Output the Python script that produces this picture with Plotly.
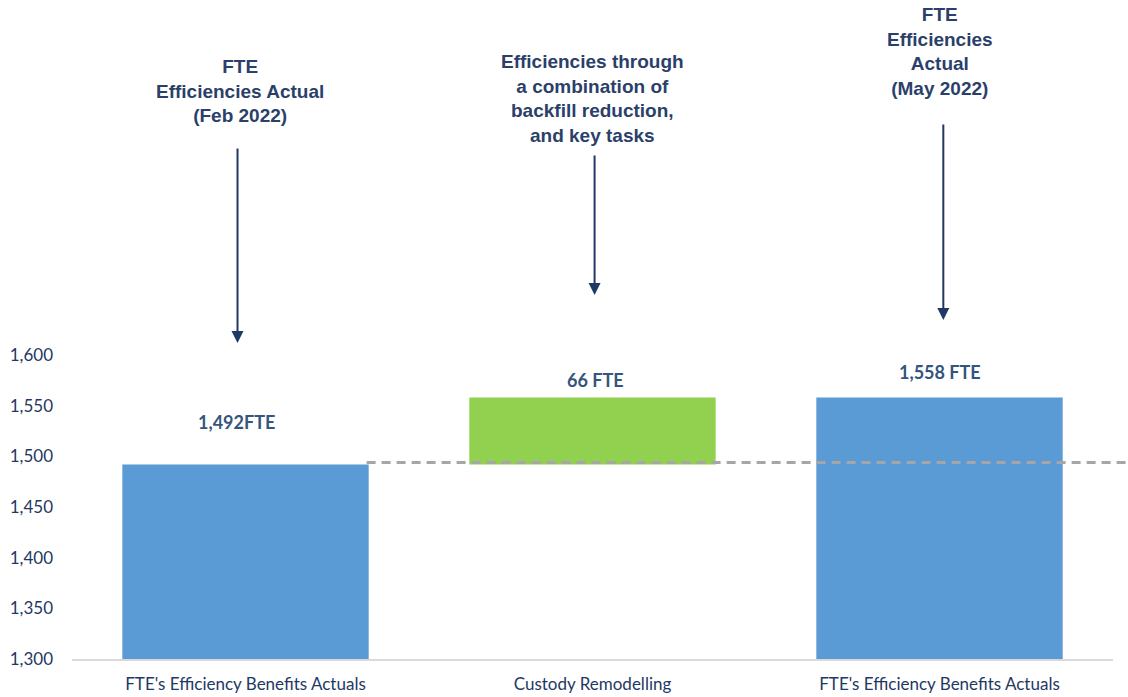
import plotly.graph_objects as go

# ---- data ----
categories = ["FTE's Efficiency Benefits Actuals", "Custody Remodelling", "FTE's Efficiency Benefits Actuals"]
bar_values = [1492, 66, 1558]
bar_bases = [0, 1492, 0]
bar_colors = ["#5b9bd5", "#92d050", "#5b9bd5"]
value_labels = ["1,492FTE", "66 FTE", "1,558 FTE"]
baseline_value = 1494
ytick_vals = [1300, 1350, 1400, 1450, 1500, 1550, 1600]
notes = [
    "FTE<br>Efficiencies Actual<br>(Feb 2022)",
    "Efficiencies through<br>a combination of<br>backfill reduction,<br>and key tasks",
    "FTE<br>Efficiencies<br>Actual<br>(May 2022)",
]

x_pos = list(range(len(categories)))
navy = "#1f3864"
label_col = "#34557d"

fig = go.Figure()
fig.add_trace(go.Bar(
    x=x_pos, y=bar_values, base=bar_bases,
    marker=dict(color=bar_colors, line=dict(width=0)),
    width=0.71, showlegend=False, hoverinfo="skip",
))

tops = [b + v for b, v in zip(bar_bases, bar_values)]
label_shift = [42, 18, 26]
label_xs = [-0.025, 1.01, 2.0]
for i, (lx, t, lab) in enumerate(zip(label_xs, tops, value_labels)):
    fig.add_annotation(x=lx, y=t, text="<b>" + lab + "</b>", showarrow=False, yanchor="middle",
                       yshift=label_shift[i],
                       font=dict(family="Lato, sans-serif", size=18, color=label_col))

# dashed reference line
fig.add_shape(type="line", xref="paper", yref="y", x0=0.283, x1=1.013,
              y0=baseline_value, y1=baseline_value, layer="above",
              line=dict(color="#a6a6a6", width=3, dash="9px,6px"))

# top notes
note_x = [-0.015, 1.0, 2.0]
note_y = [1 - 91 / 659, 1 - 98 / 659, 1 - 51 / 659]
for nx, ny, txt in zip(note_x, note_y, notes):
    fig.add_annotation(x=nx, xref="x", y=ny, yref="paper", text="<b>" + txt + "</b>",
                       showarrow=False, align="center", yanchor="middle",
                       font=dict(family="Liberation Sans, Arial, sans-serif", size=19, color="#2b3f6b"))

# arrows
arrow_x = [-0.023, 1.006, 2.011]
arrow_tip = [1611.8, 1659.2, 1634.5]
arrow_len = [196, 141, 197]
for ax_, tip, ln in zip(arrow_x, arrow_tip, arrow_len):
    fig.add_annotation(x=ax_, y=tip, xref="x", yref="y", text="", showarrow=True,
                       ax=0, ay=-ln, arrowhead=2, arrowsize=1.2, arrowwidth=2,
                       arrowcolor=navy)

fig.update_layout(
    width=1128, height=697,
    margin=dict(l=72, r=15, t=0, b=38),
    paper_bgcolor="white", plot_bgcolor="white",
    xaxis=dict(range=[-0.5, 2.5], tickvals=x_pos, ticktext=categories,
               showline=True, linecolor="#d9d9d9", linewidth=1.5,
               showgrid=False, zeroline=False, ticks="", ticklabelstandoff=9,
               tickfont=dict(family="Lato, sans-serif", size=17, color=navy)),
    yaxis=dict(range=[1300, 1950.3], tickvals=ytick_vals, tickformat=",",
               showline=False, showgrid=False, zeroline=False, ticks="",
               ticklabelstandoff=18,
               tickfont=dict(family="Lato, sans-serif", size=17, color=navy)),
)

fig.write_html("out.html")
